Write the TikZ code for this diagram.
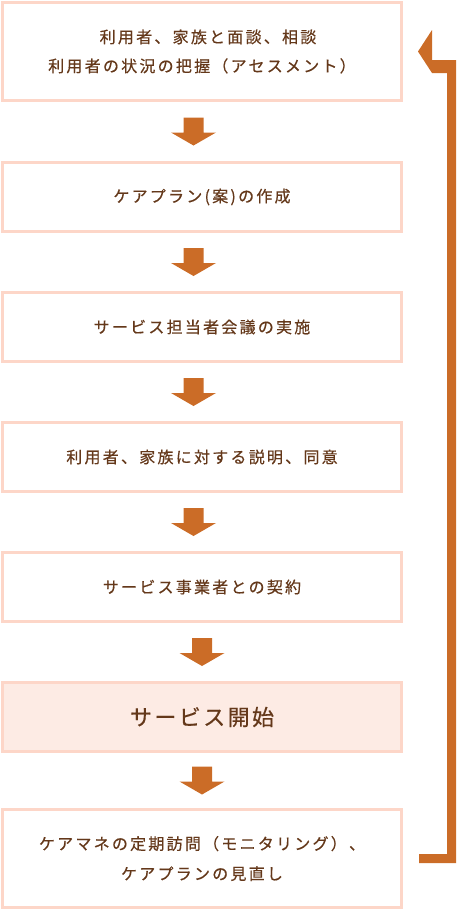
\documentclass[tikz,border=0pt]{standalone}
\usepackage{fontspec}
\usetikzlibrary{positioning,calc}

\newfontfamily\jpfont[LetterSpace=14,FakeBold=0.5]{Noto Sans CJK JP}
\newfontfamily\jpbigfont[LetterSpace=11,FakeBold=0.5]{Noto Sans CJK JP}

\definecolor{boxline}{HTML}{FDD6C8}
\definecolor{boxfill}{HTML}{FDEBE4}
\definecolor{textbrown}{HTML}{64381A}
\definecolor{arroworange}{HTML}{CB6C27}

\tikzset{
  stepbox/.style={draw=boxline, line width=3pt, minimum width=399pt,
    minimum height=69pt, inner sep=0pt, align=center,
    text=textbrown, font=\jpfont\fontsize{16pt}{29pt}\selectfont},
  tallbox/.style={stepbox, minimum height=98pt},
  startbox/.style={stepbox, fill=boxfill,
    font=\jpbigfont\fontsize{22pt}{26pt}\selectfont},
  downarrow/.pic={
    \fill[arroworange] (-10,14) -- (10,14) -- (10,-1) -- (22.5,-1)
      -- (0,-14) -- (-22.5,-1) -- (-10,-1) -- cycle;
  }
}

\begin{document}
\begin{tikzpicture}[x=1pt, y=1pt]
  \useasboundingbox (0,0) rectangle (456,-911);

  % steps
  \node [tallbox] (assess) at (202,-51.5)
    {\hspace*{12pt}利用者、家族と面談、相談\\利用者の状況の把握（アセスメント）};
  \node [stepbox, below=59pt of assess] (draft) {ケアプラン(案)の作成};
  \node [stepbox, below=58pt of draft] (meeting) {サービス担当者会議の実施};
  \node [stepbox, below=58pt of meeting] (consent) {利用者、家族に対する説明、同意};
  \node [stepbox, below=58pt of consent] (contract) {サービス事業者との契約};
  \node [startbox, below=58pt of contract] (start) {サービス開始};
  \node [tallbox, below=55pt of start, font=\jpfont\fontsize{16pt}{30pt}\selectfont] (monitor)
    {ケアマネの定期訪問（モニタリング）、\\ケアプランの見直し};

  % arrows between steps
  \pic at ($(assess.south)!0.5!(draft.north)+(-8.5,0)$) {downarrow};
  \pic at ($(draft.south)!0.5!(meeting.north)+(-8.5,0)$) {downarrow};
  \pic at ($(meeting.south)!0.5!(consent.north)+(-8.5,0)$) {downarrow};
  \pic at ($(consent.south)!0.5!(contract.north)+(-8.5,0)$) {downarrow};
  \pic at ($(contract.south)!0.5!(start.north)$) {downarrow};
  \pic at ($(start.south)!0.5!(monitor.north)$) {downarrow};

  % loop back to the first step
  \coordinate (looptip) at ($(assess.east)+(15,0)$);
  \coordinate (loopfoot) at ($(monitor.east)+(16,0)$);
  \fill [arroworange] (looptip) -- ++(14,21.5) -- ++(0,-30) -- ++(24,0)
    -- ($(loopfoot)+(37,-4.5)$) -- ($(loopfoot)+(0,-4.5)$)
    -- ($(loopfoot)+(0,4.5)$) -- ($(loopfoot)+(28,4.5)$)
    -- ($(looptip)+(29,-21.5)$) -- ($(looptip)+(14,-21.5)$) -- cycle;
\end{tikzpicture}
\end{document}
